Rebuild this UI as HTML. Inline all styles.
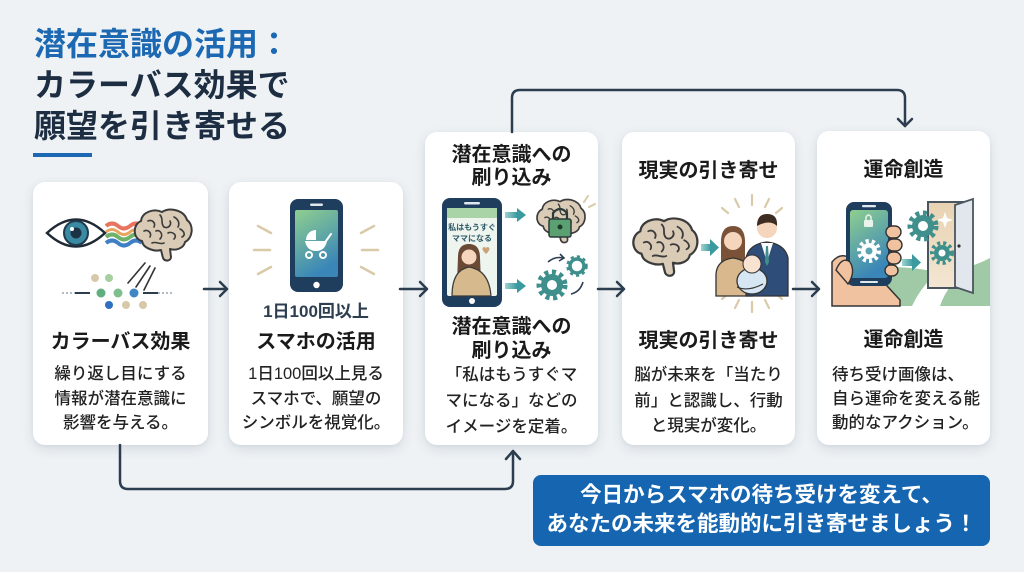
<!DOCTYPE html>
<html lang="ja">
<head>
<meta charset="utf-8">
<style>
  html,body{margin:0;padding:0;}
  body{width:1024px;height:572px;overflow:hidden;background:#eef2f5;position:relative;
       font-family:"Liberation Sans","Noto Sans CJK JP",sans-serif;}
  .card{position:absolute;background:#fff;border-radius:12px;
        box-shadow:0 4px 12px rgba(40,60,80,0.12),0 1px 3px rgba(40,60,80,0.06);}
  .t{position:absolute;text-align:center;white-space:nowrap;}
  .ttl{font-size:20px;font-weight:700;color:#1a1a1a;line-height:24px;}
  .body{font-size:16.5px;font-weight:500;color:#222;line-height:25px;}
  svg{position:absolute;left:0;top:0;}
</style>
</head>
<body>

<!-- Title -->
<div style="position:absolute;left:34px;top:24px;font-size:32px;font-weight:700;line-height:41px;white-space:nowrap;">
  <div style="color:#1c68b2;">潜在意識の活用：</div>
  <div style="color:#1e2e42;">カラーバス効果で</div>
  <div style="color:#1e2e42;">願望を引き寄せる</div>
</div>
<div style="position:absolute;left:33px;top:153px;width:59px;height:4px;background:#1c68b2;"></div>

<!-- Cards -->
<div class="card" style="left:33px;top:182px;width:175px;height:263px;"></div>
<div class="card" style="left:229px;top:182px;width:174px;height:263px;"></div>
<div class="card" style="left:425px;top:132px;width:173px;height:313px;"></div>
<div class="card" style="left:622px;top:132px;width:173px;height:313px;"></div>
<div class="card" style="left:817px;top:131px;width:173px;height:314px;"></div>

<svg width="1024" height="572" viewBox="0 0 1024 572">
  <defs>
    <symbol id="brain" viewBox="0 0 64 56">
      <path d="M12,34 C3,32 2,18 11,14 C12,5 24,1 32,5 C40,0 54,3 57,13 C64,18 63,31 55,35 C54,41 46,44 40,42 L41,50 C41,54 35,55 33,51 L31,43 C24,45 15,41 13,37 Z" fill="#d9cbb6" stroke="#3b3b3b" stroke-width="2" stroke-linejoin="round"/>
      <path d="M18,14 C22,12 26,16 24,20 M30,8 C34,12 30,16 34,20 C38,22 42,18 40,14 M44,10 C48,12 50,16 48,20 M14,24 C18,22 22,26 20,30 M26,24 C30,22 34,28 30,32 M38,26 C42,24 48,28 44,32 M50,22 C54,24 56,28 52,30 M22,36 C26,34 30,38 34,36" fill="none" stroke="#3b3b3b" stroke-width="1.6" stroke-linecap="round"/>
    </symbol>
    <linearGradient id="scr" x1="0" y1="0" x2="0.4" y2="1">
      <stop offset="0" stop-color="#8fcf8f"/>
      <stop offset="1" stop-color="#3a86b8"/>
    </linearGradient>
    <linearGradient id="tealg" x1="0" y1="0" x2="1" y2="0">
      <stop offset="0" stop-color="#9fd3d0"/>
      <stop offset="1" stop-color="#3a9aa0"/>
    </linearGradient>
    <linearGradient id="doorg" x1="0" y1="0" x2="0" y2="1">
      <stop offset="0" stop-color="#e8d2b2"/>
      <stop offset="1" stop-color="#f3e6d2"/>
    </linearGradient>
  </defs>

  <!-- connectors -->
  <g fill="none" stroke="#2b3d4f" stroke-width="2.5" stroke-linecap="round" stroke-linejoin="round">
    <path d="M512,132 V98 Q512,90 520,90 H897 Q905,90 905,98 V126"/>
    <path d="M898,119 L905,126 L912,119"/>
    <path d="M120,445 V481 Q120,489 128,489 H505 Q513,489 513,481 V452"/>
    <path d="M506,459 L513,451 L520,459"/>
    <path d="M204,289 H227 M220,282 L227,289 L220,296"/>
    <path d="M400,289 H427 M420,282 L427,289 L420,296"/>
    <path d="M598,289 H624 M617,282 L624,289 L617,296"/>
    <path d="M793,289 H819 M812,282 L819,289 L812,296"/>
  </g>

  <!-- Card 1 illustration -->
  <g>
    <path d="M106,226 q6,-5 12,0 t12,0 t12,0" fill="none" stroke="#e8735f" stroke-width="4"/>
    <path d="M143,221 L152,225 L144,230 Z" fill="#e8735f"/>
    <path d="M106,232 q6,-5 12,0 t12,0 t12,0" fill="none" stroke="#e9a45e" stroke-width="3"/>
    <path d="M106,237 q6,-5 12,0 t12,0 t12,0" fill="none" stroke="#6fb36a" stroke-width="4"/>
    <path d="M106,243 q6,-5 12,0 t12,0 t12,0" fill="none" stroke="#3f7fc4" stroke-width="4"/>
    <path d="M47,233 Q76,206 105,233 Q76,260 47,233 Z" fill="#fff" stroke="#1f2a36" stroke-width="2.5"/>
    <circle cx="76" cy="233" r="12" fill="#3b8aa3" stroke="#1f3b4d" stroke-width="2"/>
    <circle cx="76" cy="233" r="5.5" fill="#1b3344"/>
    <circle cx="72" cy="229" r="2" fill="#fff"/>
    <use href="#brain" x="130" y="201" width="64" height="68" preserveAspectRatio="none"/>
    <path d="M145,263 L128,283 M150,266 L136,287 M155,268 L144,290" stroke="#333" stroke-width="1.6" fill="none" stroke-linecap="round"/>
    <circle cx="95" cy="278" r="4" fill="#d8c8aa"/>
    <circle cx="109" cy="278" r="4" fill="#a8cfa0"/>
    <path d="M62,293 H75" stroke="#9aa5b0" stroke-width="1.5" stroke-dasharray="2 2"/>
    <path d="M75,293 H90 M143,293 H158" stroke="#2b3d4f" stroke-width="2"/>
    <path d="M158,293 H173" stroke="#9aa5b0" stroke-width="1.5" stroke-dasharray="2 2"/>
    <circle cx="101" cy="293" r="4.5" fill="#5fae7e"/>
    <circle cx="118" cy="293" r="4.5" fill="#7fbf8e"/>
    <circle cx="134" cy="293" r="4.5" fill="#3f86c4"/>
    <circle cx="109" cy="305" r="4" fill="#2f6fbf"/>
    <circle cx="126" cy="305" r="4" fill="#d8c8aa"/>
    <circle cx="143" cy="305" r="4" fill="#d8c8aa"/>
  </g>

  <!-- Card 2 illustration -->
  <g>
    <g stroke="#d9cba9" stroke-width="2.5" stroke-linecap="round">
      <path d="M258,226 L271,233 M254,250 L270,250 M258,274 L271,267"/>
      <path d="M374,226 L361,233 M378,250 L362,250 M374,274 L361,267"/>
    </g>
    <rect x="290" y="199" width="53" height="93" rx="8" fill="#1f3d5c"/>
    <rect x="295" y="210" width="43" height="67" rx="2" fill="url(#scr)"/>
    <rect x="310" y="203.5" width="13" height="2.5" rx="1.2" fill="#dfe8ef"/>
    <circle cx="316.5" cy="285" r="3.2" fill="#fff"/>
    <path d="M306,240 A10,10 0 0 1 316,230 L316,240 Z" fill="#fff"/>
    <path d="M305,241 H327 Q325,251 316,251 Q307,251 305,241 Z" fill="#fff"/>
    <path d="M326,241 L331,234" stroke="#fff" stroke-width="2" stroke-linecap="round"/>
    <circle cx="309" cy="255" r="3" fill="none" stroke="#fff" stroke-width="2"/>
    <circle cx="323" cy="255" r="3" fill="none" stroke="#fff" stroke-width="2"/>
  </g>

  <!-- Card 3 illustration -->
  <g>
    <rect x="442" y="198" width="60" height="109" rx="8" fill="#1f3d5c"/>
    <rect x="447" y="208" width="50" height="88" rx="2" fill="#eef4ee"/>
    <rect x="447" y="208" width="50" height="10" fill="#a9d4a8"/>
    <rect x="464" y="202" width="16" height="2.5" rx="1.2" fill="#dfe8ef"/>
    <circle cx="472" cy="301" r="3" fill="#fff"/>
    <text x="472" y="230" font-size="8" font-weight="700" fill="#2a5866" text-anchor="middle" font-family="'Liberation Sans','Noto Sans CJK JP',sans-serif">私はもうすぐ</text>
    <text x="472" y="241" font-size="8" font-weight="700" fill="#2a5866" text-anchor="middle" font-family="'Liberation Sans','Noto Sans CJK JP',sans-serif">ママになる</text>
    <path d="M458,257 Q458,244 469,244 Q480,244 480,258 L481,282 L457,282 Z" fill="#6b4a35"/>
    <circle cx="469" cy="257" r="7.5" fill="#f6d6bd"/>
    <path d="M452,296 Q452,270 469,267 Q489,270 491,296 Z" fill="#d7b98e" stroke="#3b3b3b" stroke-width="1.2"/>
    <path d="M484,252 q-3,-4 0,-5 q2,0 2,2 q0,-2 2,-2 q3,1 0,5 l-2,2 Z" fill="#c9a27a"/>
    <rect x="505" y="212" width="12" height="6" fill="url(#tealg)"/>
    <path d="M517,208 L526,215 L517,222 Z" fill="#3a9aa0"/>
    <rect x="505" y="283" width="12" height="6" fill="url(#tealg)"/>
    <path d="M517,279 L526,286 L517,293 Z" fill="#3a9aa0"/>
    <use href="#brain" x="533" y="195" width="54" height="52" preserveAspectRatio="none"/>
    <rect x="549" y="219" width="22" height="18" rx="2" fill="#5aa070" stroke="#2a3a3a" stroke-width="1.5"/>
    <path d="M553,219 V213 Q560,205 567,213 V219" fill="none" stroke="#2a3a3a" stroke-width="2.2"/>
    <circle cx="560" cy="227" r="2.5" fill="#1f3a2a"/>
    <path d="M584,202 L588,196 M589,207 L595,204" stroke="#d9cba9" stroke-width="2" stroke-linecap="round"/>
    <circle cx="552" cy="285" r="11" fill="#3f8f8c"/>
    <circle cx="552" cy="285" r="13" fill="none" stroke="#3f8f8c" stroke-width="5" stroke-dasharray="4 3.6"/>
    <circle cx="552" cy="285" r="5" fill="#fff"/>
    <circle cx="577" cy="266" r="7" fill="none" stroke="#3f8f8c" stroke-width="3.5"/>
    <circle cx="577" cy="266" r="9" fill="none" stroke="#3f8f8c" stroke-width="3.5" stroke-dasharray="3 3"/>
    <path d="M548,262 Q555,256 563,258" fill="none" stroke="#2b3d4f" stroke-width="1.6"/>
    <path d="M560,254 L564,258 L559,261" fill="none" stroke="#2b3d4f" stroke-width="1.6"/>
    <path d="M583,282 Q580,292 571,294" fill="none" stroke="#2b3d4f" stroke-width="1.6"/>
  </g>

  <!-- Card 4 illustration -->
  <g>
    <use href="#brain" x="628" y="212" width="72" height="70" preserveAspectRatio="none"/>
    <rect x="701" y="244" width="10" height="7" fill="url(#tealg)"/>
    <path d="M710,239 L719,247.5 L710,256 Z" fill="#3a9aa0"/>
    <g stroke="#d9cba9" stroke-width="2.2" stroke-linecap="round">
      <path d="M752,195 V205 M735,199 L739,207 M769,199 L765,207 M722,208 L728,213 M782,208 L776,213"/>
      <path d="M752,312 V302 M735,308 L739,300 M769,308 L765,300 M722,299 L728,294 M782,299 L776,294"/>
    </g>
    <path d="M721,245 Q720,226 733,226 Q746,226 745,245 L745,262 L721,262 Z" fill="#7a5238"/>
    <circle cx="733" cy="241" r="9" fill="#f5d5bb"/>
    <path d="M716,296 V274 Q717,260 733,258 Q748,260 752,272 V296 Z" fill="#d8b88c" stroke="#333" stroke-width="1.3"/>
    <circle cx="767" cy="228" r="10" fill="#f5d5bb"/>
    <path d="M757,226 Q757,214 767,214 Q778,214 777,226 Q770,219 757,226 Z" fill="#3d2c22"/>
    <path d="M746,296 V258 Q749,244 767,242 Q785,244 788,258 V296 Z" fill="#2e4d78" stroke="#333" stroke-width="1.3"/>
    <path d="M761,243 L767,262 L773,243 Z" fill="#fff"/>
    <path d="M766,246 L768,246 L769,262 L767,266 L765,262 Z" fill="#3f8f8c"/>
    <ellipse cx="752" cy="281" rx="15" ry="13" fill="#d6e6f2" stroke="#333" stroke-width="1.3"/>
    <circle cx="752" cy="264" r="9" fill="#f8e2d2" stroke="#333" stroke-width="1"/>
    <path d="M737,287 Q748,292 763,284" fill="none" stroke="#333" stroke-width="1.2"/>
  </g>

  <!-- Card 5 illustration -->
  <g>
    <path d="M832,306 L832,276 Q880,262 926,270 Q960,274 990,258 L990,306 Z" fill="#9fcaa5"/>
    <path d="M912,306 Q928,272 962,258 L974,264 Q948,282 940,306 Z" fill="#fff"/>
    <rect x="928" y="202" width="44" height="86" fill="url(#doorg)" stroke="#4a5560" stroke-width="2"/>
    <path d="M955,205 L973,199 L973,293 L955,287 Z" fill="#e1e7ec" stroke="#4a5560" stroke-width="1.8"/>
    <circle cx="959" cy="246" r="1.6" fill="#333"/>
    <path d="M945,212 L947,218 L953,220 L947,222 L945,228 L943,222 L937,220 L943,218 Z" fill="#fff"/>
    <circle cx="923" cy="226" r="11" fill="#3f8f8c"/>
    <circle cx="923" cy="226" r="13" fill="none" stroke="#3f8f8c" stroke-width="5" stroke-dasharray="4 3.6"/>
    <circle cx="923" cy="226" r="5" fill="#fff"/>
    <circle cx="942" cy="253" r="8" fill="#3f8f8c"/>
    <circle cx="942" cy="253" r="10" fill="none" stroke="#3f8f8c" stroke-width="4" stroke-dasharray="3 3"/>
    <circle cx="942" cy="253" r="3.5" fill="#fff"/>
    <rect x="902" y="259" width="11" height="7" fill="url(#tealg)"/>
    <path d="M912,254 L921,262.5 L912,271 Z" fill="#3a9aa0"/>
    <path d="M832,306 L832,262 Q840,252 850,258 L878,276 L900,300 L900,306 Z" fill="#f0c2a0" stroke="#333" stroke-width="1.5"/>
    <rect x="846" y="202" width="46" height="84" rx="8" fill="#1f3d5c"/>
    <rect x="850" y="210" width="38" height="68" rx="3" fill="url(#scr)"/>
    <rect x="862" y="205" width="14" height="2.2" rx="1" fill="#dfe8ef"/>
    <rect x="860" y="281" width="18" height="2" rx="1" fill="#dfe8ef"/>
    <rect x="864" y="220" width="9" height="7" rx="1" fill="#e8f4ea"/>
    <path d="M866,220 V217 Q868.5,213 871,217 V220" fill="none" stroke="#e8f4ea" stroke-width="1.5"/>
    <circle cx="869" cy="251" r="8" fill="#fff"/>
    <circle cx="869" cy="251" r="10" fill="none" stroke="#fff" stroke-width="4" stroke-dasharray="3.2 3"/>
    <circle cx="869" cy="251" r="3.5" fill="#5aa6b0"/>
    <g fill="#f0c2a0" stroke="#333" stroke-width="1.4">
      <rect x="886" y="226" width="15" height="12" rx="6"/>
      <rect x="887" y="239" width="15" height="12" rx="6"/>
      <rect x="887" y="252" width="14" height="12" rx="6"/>
      <rect x="885" y="265" width="13" height="11" rx="5.5"/>
      <path d="M836,270 Q842,256 850,262 Q856,272 848,284 Z"/>
    </g>
  </g>
</svg>

<!-- Card 1 text -->
<div class="t ttl" style="left:33px;width:175px;top:330px;">カラーバス効果</div>
<div class="t body" style="left:33px;width:175px;top:362px;line-height:24.5px;">繰り返し目にする<br>情報が潜在意識に<br>影響を与える。</div>

<!-- Card 2 text -->
<div class="t" style="left:229px;width:174px;top:301px;font-size:17px;font-weight:700;color:#2c3e50;line-height:22px;">1日100回以上</div>
<div class="t ttl" style="left:229px;width:174px;top:330px;">スマホの活用</div>
<div class="t body" style="left:229px;width:174px;top:362px;line-height:24.5px;">1日100回以上見る<br>スマホで、願望の<br>シンボルを視覚化。</div>

<!-- Card 3 text -->
<div class="t ttl" style="left:425px;width:173px;top:144px;line-height:23px;">潜在意識への<br>刷り込み</div>
<div class="t ttl" style="left:425px;width:173px;top:315px;line-height:24px;">潜在意識への<br>刷り込み</div>
<div class="t body" style="left:425px;width:173px;top:362px;line-height:26px;">「私はもうすぐマ<br>マになる」などの<br>イメージを定着。</div>

<!-- Card 4 text -->
<div class="t ttl" style="left:622px;width:173px;top:159px;">現実の引き寄せ</div>
<div class="t ttl" style="left:622px;width:173px;top:329px;">現実の引き寄せ</div>
<div class="t body" style="left:622px;width:173px;top:363px;line-height:25.5px;">脳が未来を「当たり<br>前」と認識し、行動<br>と現実が変化。</div>

<!-- Card 5 text -->
<div class="t ttl" style="left:817px;width:173px;top:158px;">運命創造</div>
<div class="t ttl" style="left:817px;width:173px;top:328px;">運命創造</div>
<div class="t body" style="left:832px;top:363px;text-align:left;line-height:24px;">待ち受け画像は、<br>自ら運命を変える能<br>動的なアクション。</div>

<!-- Bottom call-out -->
<div style="position:absolute;left:533px;top:475px;width:457px;height:71px;background:#1565b0;border-radius:8px;"></div>
<div class="t" style="left:533px;width:457px;top:481px;color:#fff;font-size:21.5px;font-weight:700;line-height:29px;">今日からスマホの待ち受けを変えて、<br>あなたの未来を能動的に引き寄せましょう！</div>

</body>
</html>
